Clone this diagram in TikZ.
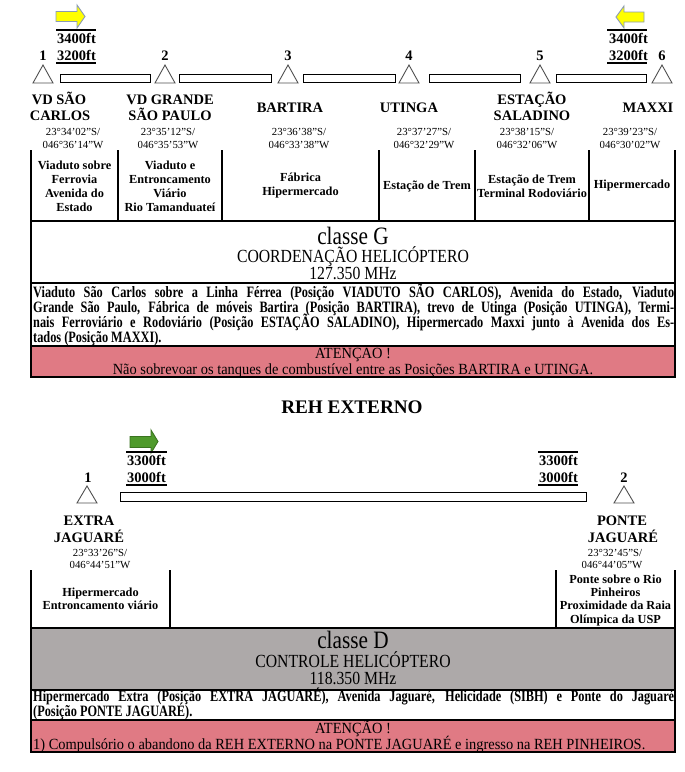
\documentclass[tikz,border=0pt]{standalone}
\usepackage{fontspec}
\setmainfont{Liberation Serif}
\newfontfamily\condf[FakeStretch=0.85]{Liberation Serif}
\newfontfamily\attf[FakeStretch=0.93]{Liberation Serif}
\newfontfamily\paraf[FakeStretch=0.78]{Liberation Serif}
\definecolor{redbox}{HTML}{E07A84}
\definecolor{graybox}{HTML}{ADA9A9}
\definecolor{yelfill}{HTML}{FFFF00}
\definecolor{yeledge}{HTML}{8A9AB4}
\definecolor{grnfill}{HTML}{4F9A2C}
\definecolor{grnedge}{HTML}{3A7420}
\definecolor{triedge}{HTML}{505050}
\tikzset{
  lbl/.style={font=\fontsize{14.5}{15}\selectfont\bfseries, anchor=base, inner sep=0},
  crd/.style={font=\fontsize{10.8}{12}\selectfont, anchor=base, inner sep=0},
  cellt/.style={font=\fontsize{12.3}{14}\selectfont\bfseries, align=center, inner sep=0},
  cellb/.style={font=\fontsize{12.3}{13.5}\selectfont\bfseries, anchor=base, inner sep=0},
  cls/.style={font=\condf\fontsize{25}{26}\selectfont, anchor=base, inner sep=0},
  sub/.style={font=\condf\fontsize{18.5}{19}\selectfont, anchor=base, inner sep=0},
  att/.style={font=\attf\fontsize{15.5}{16}\selectfont, anchor=base, inner sep=0},
  para/.style={font=\paraf\fontsize{15.8}{15}\selectfont\bfseries, anchor=base west, inner sep=0},
  tri/.style={draw=triedge, line width=0.9, line join=miter},
  barbox/.style={draw=black, line width=1},
  grid/.style={draw=black, line width=1.2},
  altline/.style={draw=black, line width=2.4},
  yarrow/.style={fill=yelfill, draw=yeledge, line width=0.9, line join=miter},
  garrow/.style={fill=grnfill, draw=grnedge, line width=0.9, line join=miter},
}
\begin{document}
\begin{tikzpicture}[x=1pt,y=-1pt]
\useasboundingbox (0,0) rectangle (685,772);
\fill[white] (0,0) rectangle (685,772);

% ===== top route =====
\path[yarrow] (56,11.5) -- (77,11.5) -- (77,5) -- (85,16.5) -- (77,28) -- (77,21.5) -- (56,21.5) -- cycle;
\path[yarrow] (644,12) -- (624,12) -- (624,6) -- (616,17) -- (624,28) -- (624,22) -- (644,22) -- cycle;

\draw[altline] (56,30) -- (96,30);
\draw[altline] (56,63) -- (96,63);
\node[lbl] (altTLa) at (76.5,43) {3400ft};
\node[lbl] (altTLb) at (76.5,60) {3200ft};
\draw[altline] (607,30) -- (647,30);
\draw[altline] (607,63) -- (647,63);
\node[lbl] (altTRa) at (628.5,43) {3400ft};
\node[lbl] (altTRb) at (628.5,60) {3200ft};

\foreach \x/\n in {43/1,165/2,288/3,409/4,540/5,662/6}{
  \draw[tri] (\x-10,83) -- (\x,65) -- (\x+10,83) -- cycle;
  \node[lbl] (num\n) at (\x,60) {\n};
}
\foreach \a/\b in {60/150,179/271,303/395,429/520,556/646}{
  \draw[barbox] (\a,74) rectangle (\b,82);
}

\node[lbl] (p1a) at (59,104) {VD SÃO};
\node[lbl] (p1b) at (60,120) {CARLOS};
\node[lbl] (p2a) at (170,104) {VD GRANDE};
\node[lbl] (p2b) at (170,120) {SÃO PAULO};
\node[lbl] (p3) at (290,112) {BARTIRA};
\node[lbl] (p4) at (409,112) {UTINGA};
\node[lbl] (p5a) at (532,104) {ESTAÇÃO};
\node[lbl] (p5b) at (532,120) {SALADINO};
\node[lbl] (p6) at (648,112) {MAXXI};

\foreach \x/\s/\w [count=\i] in {73/23°34’02”S\slash/046°36’14”W,168/23°35’12”S\slash/046°35’53”W,299/23°36’38”S\slash/046°33’38”W,424/23°37’27”S\slash/046°32’29”W,527/23°38’15”S\slash/046°32’06”W,630/23°39’23”S\slash/046°30’02”W}{
  \node[crd] (cs\i) at (\x,135) {\s};
  \node[crd] (cw\i) at (\x,148) {\w};
}

% table
\foreach \x in {31,118,222,379,475,589,675}{\draw[grid] (\x,150) -- (\x,221);}
\node[cellt] (c1) at (74.5,186) {Viaduto sobre\\Ferrovia\\Avenida do\\Estado};
\node[cellt] (c2) at (170,186) {Viaduto e\\Entroncamento\\Viário\\Rio Tamanduateí};
\node[cellt] (c3) at (300.5,186) {Fábrica\\Hipermercado};
\node[cellt] (c4) at (427,186) {Estação de Trem};
\node[cellt] (c5) at (532,186) {Estação de Trem\\Terminal Rodoviário};
\node[cellt] (c6) at (632,186) {Hipermercado};

\fill[redbox] (31,346) rectangle (675,377);
\draw[grid] (31,221) rectangle (675,377);
\draw[grid] (31,283) -- (675,283);
\draw[grid] (31,346) -- (675,346);

\node[cls] (clsG) at (353,244) {classe G};
\node[sub] (coordG) at (353,262) {COORDENAÇÃO HELICÓPTERO};
\node[sub] (freqG) at (353,279) {127.350 MHz};

\node[para] (pg1) at (33,297) {\makebox[641pt][s]{Viaduto São Carlos sobre a Linha Férrea (Posição VIADUTO SÃO CARLOS), Avenida do Estado, Viaduto}};
\node[para] (pg2) at (33,312) {\makebox[641pt][s]{Grande São Paulo, Fábrica de móveis Bartira (Posição BARTIRA), trevo de Utinga (Posição UTINGA), Termi-}};
\node[para] (pg3) at (33,327) {\makebox[641pt][s]{nais Ferroviário e Rodoviário (Posição ESTAÇÃO SALADINO), Hipermercado Maxxi junto à Avenida dos Es-}};
\node[para] (pg4) at (33,342) {tados (Posição MAXXI).};

\node[att] (attG) at (353,358) {ATENÇÃO !};
\node[att] (attG2) at (353,374) {Não sobrevoar os tanques de combustível entre as Posições BARTIRA e UTINGA.};

% ===== REH EXTERNO =====
\node[font=\fontsize{19.2}{20}\selectfont\bfseries, anchor=base, inner sep=0] (title) at (352,413) {REH EXTERNO};

\path[garrow] (130,436.5) -- (151,436.5) -- (151,430) -- (158,441.5) -- (151,453) -- (151,447.5) -- (130,447.5) -- cycle;

\draw[altline] (126,452) -- (167,452);
\draw[altline] (126,485) -- (167,485);
\node[lbl] (altBLa) at (146.5,465) {3300ft};
\node[lbl] (altBLb) at (146.5,482) {3000ft};
\draw[altline] (538,452) -- (578,452);
\draw[altline] (538,485) -- (578,485);
\node[lbl] (altBRa) at (558.5,465) {3300ft};
\node[lbl] (altBRb) at (558.5,482) {3000ft};

\draw[tri] (77,503) -- (87,486) -- (97,503) -- cycle;
\node[lbl] (bnum1) at (88,482) {1};
\draw[tri] (614,503) -- (624,486) -- (634,503) -- cycle;
\node[lbl] (bnum2) at (624,482) {2};
\draw[barbox] (120,492) rectangle (586,501);

\node[lbl] (q1a) at (89,525) {EXTRA};
\node[lbl] (q1b) at (89,542) {JAGUARÉ};
\node[crd] (qs1) at (100,556) {23°33’26”S/};
\node[crd] (qw1) at (100,568) {046°44’51”W};
\node[lbl] (q2a) at (622,525) {PONTE};
\node[lbl] (q2b) at (623,542) {JAGUARÉ};
\node[crd] (qs2) at (615,556) {23°32’45”S/};
\node[crd] (qw2) at (612,568) {046°44’05”W};

\foreach \x in {31,170,556,675}{\draw[grid] (\x,570) -- (\x,628);}
\node[cellb] (d1a) at (100.5,596) {Hipermercado};
\node[cellb] (d1b) at (100.5,609) {Entroncamento viário};
\node[cellb] (d2a) at (615.5,583) {Ponte sobre o Rio};
\node[cellb] (d2b) at (615.5,596) {Pinheiros};
\node[cellb] (d2c) at (615.5,609) {Proximidade da Raia};
\node[cellb] (d2d) at (615.5,623) {Olímpica da USP};

\fill[graybox] (31,628) rectangle (675,690);
\fill[redbox] (31,720) rectangle (675,752);
\draw[grid] (31,628) rectangle (675,752);
\draw[grid] (31,690) -- (675,690);
\draw[grid] (31,720) -- (675,720);

\node[cls] (clsD) at (353,648) {classe D};
\node[sub] (coordD) at (353,667) {CONTROLE HELICÓPTERO};
\node[sub] (freqD) at (353,684) {118.350 MHz};

\node[para] (pd1) at (33,701) {\makebox[641pt][s]{Hipermercado Extra (Posição EXTRA JAGUARÉ), Avenida Jaguaré, Helicidade (SIBH) e Ponte do Jaguaré}};
\node[para] (pd2) at (33,716) {(Posição PONTE JAGUARÉ).};

\node[att] (attD) at (353,733) {ATENÇÃO !};
\node[att, anchor=base west] (attD2) at (33,749) {1) Compulsório o abandono da REH EXTERNO na PONTE JAGUARÉ e ingresso na REH PINHEIROS.};
\end{tikzpicture}
\end{document}
